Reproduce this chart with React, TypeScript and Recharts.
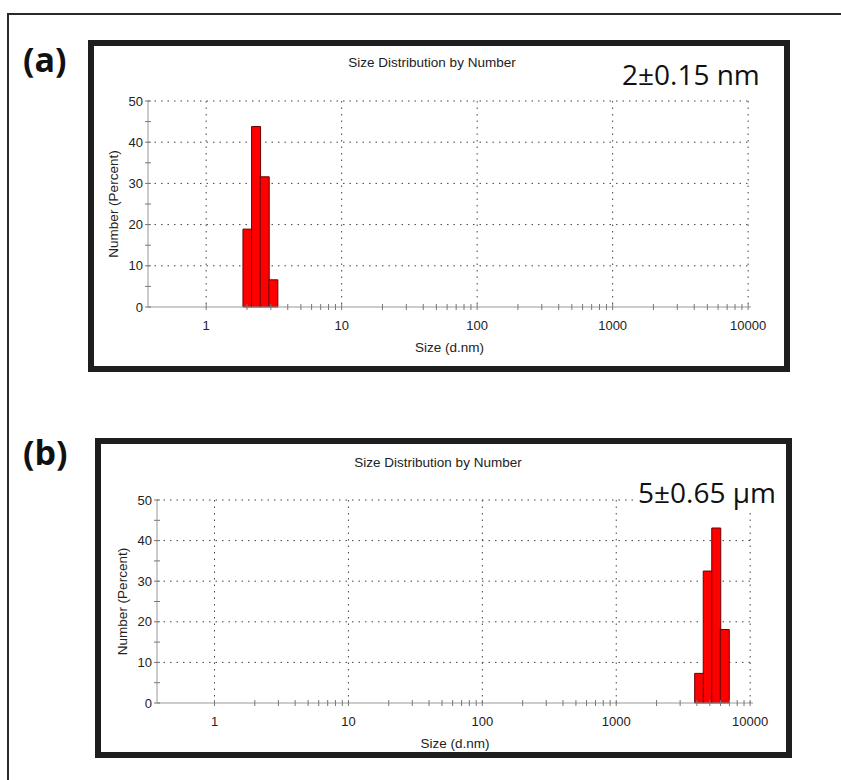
import React from 'react';
import { BarChart, Bar, XAxis, YAxis, CartesianGrid, Label } from 'recharts';

// Panel (a) — nanoparticles
const sizeA = [2.01, 2.328, 2.696, 3.122];
const numberA = [18.9, 43.8, 31.6, 6.6];
// Panel (b) — micro particles
const sizeB = [4145, 4801, 5560, 6439];
const numberB = [7.3, 32.5, 43.1, 18.1];

const majorTicks = [1, 10, 100, 1000, 10000];
const minorTicks = [
  2, 3, 4, 5, 6, 7, 8, 9,
  20, 30, 40, 50, 60, 70, 80, 90,
  200, 300, 400, 500, 600, 700, 800, 900,
  2000, 3000, 4000, 5000, 6000, 7000, 8000, 9000,
];
const yTicks = [0, 5, 10, 15, 20, 25, 30, 35, 40, 45, 50];
const yLabelTicks = [0, 10, 20, 30, 40, 50];
const gridY = [10, 20, 30, 40, 50];

const chartTitle = 'Size Distribution by Number';
const xTitle = 'Size (d.nm)';
const yTitle = 'Number (Percent)';
const panelLabels = ['(a)', '(b)'];
const annotations = ['2±0.15 nm', '5±0.65 μm'];

const AXIS_FONT = '"Liberation Sans", Arial, sans-serif';
const LABEL_FONT = '"Open Sans", "Noto Sans", sans-serif';

const XTick = (props: any) => {
  const { x, y, payload } = props;
  const major = majorTicks.includes(payload.value);
  return (
    <g>
      <line x1={x} x2={x} y1={y - 3} y2={y + 3} stroke="#777" strokeWidth={1} />
      {major && (
        <text x={x} y={y + 23} textAnchor="middle" fontSize={13} fill="#222" fontFamily={AXIS_FONT}>
          {payload.value}
        </text>
      )}
    </g>
  );
};

const YTick = (props: any) => {
  const { x, y, payload } = props;
  const labeled = yLabelTicks.includes(payload.value);
  return (
    <g>
      <line x1={x - 3} x2={x + 3} y1={y} y2={y} stroke="#777" strokeWidth={1} />
      {labeled && (
        <text x={x - 5} y={y} dy="0.36em" textAnchor="end" fontSize={13} fill="#222" fontFamily={AXIS_FONT}>
          {payload.value}
        </text>
      )}
    </g>
  );
};

type PanelProps = {
  sizes: number[];
  values: number[];
  left: number;
  top: number;
  width: number;
  height: number;
  margin: { top: number; right: number; left: number; bottom: number };
};

const Panel = ({ sizes, values, left, top, width, height, margin }: PanelProps) => {
  const data = sizes.map((s, i) => ({ size: s, number: values[i] }));
  return (
    <div style={{ position: 'absolute', left, top, width, height }}>
      <BarChart width={width} height={height} data={data} margin={margin} barCategoryGap={0} barGap={0}>
        <CartesianGrid
          stroke="#444"
          strokeDasharray="1.5 5"
          horizontalValues={gridY}
          verticalValues={majorTicks}
        />
        <XAxis
          dataKey="size"
          type="number"
          scale="log"
          domain={[0.372, 10500]}
          allowDataOverflow
          ticks={[...majorTicks, ...minorTicks]}
          interval={0}
          tickSize={0}
          tickMargin={0}
          tick={<XTick />}
          axisLine={{ stroke: '#999' }}
          height={30}
        >
          <Label
            value={xTitle}
            position="bottom"
            offset={5}
            style={{ fontSize: 13.5, fill: '#222', fontFamily: AXIS_FONT }}
          />
        </XAxis>
        <YAxis
          type="number"
          domain={[0, 50]}
          ticks={yTicks}
          interval={0}
          tickSize={0}
          tickMargin={0}
          tick={<YTick />}
          axisLine={{ stroke: '#999' }}
          width={40}
        >
          <Label
            value={yTitle}
            angle={-90}
            position="insideLeft"
            offset={5}
            style={{ fontSize: 13.5, fill: '#222', fontFamily: AXIS_FONT, textAnchor: 'middle' }}
          />
        </YAxis>
        <Bar dataKey="number" fill="#ff0000" stroke="#6b0000" strokeWidth={1} isAnimationActive={false} />
      </BarChart>
    </div>
  );
};

export default function App() {
  return (
    <div
      style={{
        position: 'fixed',
        left: 0,
        top: 0,
        width: 841,
        height: 780,
        overflow: 'hidden',
        background: '#fff',
      }}
    >
      {/* outer frame */}
      <div
        style={{
          position: 'absolute',
          left: 7,
          top: 13,
          width: 1000,
          height: 1000,
          border: '2px solid #2a2a2a',
          boxSizing: 'border-box',
        }}
      />
      {/* panel frames */}
      <div
        style={{
          position: 'absolute',
          left: 88,
          top: 40,
          width: 702,
          height: 332,
          border: '6px solid #1e1e1e',
          boxSizing: 'border-box',
        }}
      />
      <div
        style={{
          position: 'absolute',
          left: 95,
          top: 438,
          width: 697,
          height: 320,
          border: '6px solid #1e1e1e',
          boxSizing: 'border-box',
        }}
      />

      <Panel
        sizes={sizeA}
        values={numberA}
        left={93}
        top={46}
        width={692}
        height={321}
        margin={{ top: 55, right: 34, left: 15, bottom: 30 }}
      />
      <Panel
        sizes={sizeB}
        values={numberB}
        left={101}
        top={444}
        width={686}
        height={308}
        margin={{ top: 56, right: 34, left: 16, bottom: 19 }}
      />

      <svg
        width={841}
        height={780}
        style={{ position: 'absolute', left: 0, top: 0, pointerEvents: 'none' }}
      >
        <text x={23} y={72} fontSize={34} fontWeight={700} fontFamily={LABEL_FONT} fill="#111">
          {panelLabels[0]}
        </text>
        <text x={23} y={465} fontSize={34} fontWeight={700} fontFamily={LABEL_FONT} fill="#111">
          {panelLabels[1]}
        </text>
        <text x={432} y={66.5} textAnchor="middle" fontSize={13.5} fontFamily={AXIS_FONT} fill="#222">
          {chartTitle}
        </text>
        <text x={438} y={466.5} textAnchor="middle" fontSize={13.5} fontFamily={AXIS_FONT} fill="#222">
          {chartTitle}
        </text>
        <text x={622} y={85} fontSize={28} fontFamily={LABEL_FONT} fill="#111">
          {annotations[0]}
        </text>
        <rect x={634} y={478} width={146} height={32} fill="#fff" />
        <text x={638} y={503} fontSize={28} fontFamily={LABEL_FONT} fill="#111">
          {annotations[1]}
        </text>
      </svg>
    </div>
  );
}
